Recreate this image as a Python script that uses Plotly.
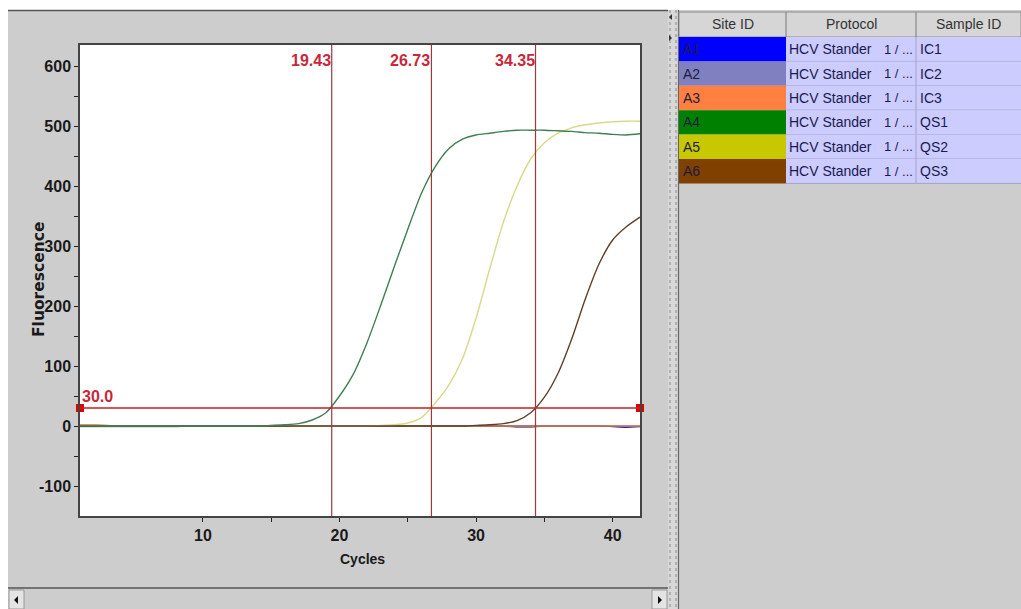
import plotly.graph_objects as go

# ---------------- data ----------------
cycles = [1, 2, 3, 4, 5, 6, 7, 8, 9, 10, 11, 12, 13, 14, 15, 16, 17, 18, 19, 20, 21,
          22, 23, 24, 25, 26, 27, 28, 29, 30, 31, 32, 33, 34, 35, 36, 37, 38, 39, 40, 41, 42]

ic1 = [0, 0, 0, 0, 0, 0, 0, 0, 0, 0, 0, 0, 0, 0, 0, 0, 0, 0, 0, 0, 0,
       0, 0, 0, 0, 0, 0, 0, 0, 0, 0, 0, 0, 0, 0, 0, 0, 0, 0, -1, -2, -1]
ic2 = [-1, -1, -1, -1, -1, -1, -1, -1, 0, 0, 0, 0, 0, 0, 0, 0, 0, 0, 0, 0, 0,
       0, 0, 0, 0, 0, 0, 0, 0, 0, 0, 0, -2, -2, 0, 0, 0, 0, 0, 0, 0, 0]
ic3 = [2, 2, 1, 0, 0, 0, 0, 0, 0, 0, 0, 0, 0, 0, 0, 0, 0, 0, 0, 0, 0,
       0, 0, 0, 0, 0, 0, 0, 0, 0, 0, 0, 0, 0, 0, 0, 0, 0, 0, 0, 0, 0]
qs1 = [0, 0, 0, 0, 0, 0, 0, 0, 0, 0, 0, 0, 0, 0, 1, 2, 4, 10, 22, 50, 86,
       138, 200, 265, 328, 388, 432, 462, 478, 485, 488, 491, 493, 493, 493, 492, 491, 489, 488, 486, 485, 487]
qs2 = [1, 1, 0, 0, 0, 0, 0, 0, 0, 0, 0, 0, 0, 0, 1, 1, 0, 0, 0, 0, 0,
       0, 1, 2, 5, 14, 38, 68, 112, 180, 262, 340, 400, 445, 472, 488, 497, 502, 505, 507, 508, 508]
qs3 = [0, 0, 0, 0, 0, 0, 0, 0, 0, 0, 0, 0, 0, 0, 0, 0, 0, 0, 0, 0, 0,
       0, 0, 0, 0, 0, 0, 0, 0, 1, 2, 4, 9, 22, 48, 88, 145, 212, 270, 310, 332, 348]

series_values = [ic1, ic2, ic3, qs1, qs2, qs3]
sample_ids = ["IC1", "IC2", "IC3", "QS1", "QS2", "QS3"]
site_ids = ["A1", "A2", "A3", "A4", "A5", "A6"]
protocols = ["HCV Stander", "HCV Stander", "HCV Stander", "HCV Stander", "HCV Stander", "HCV Stander"]
protocol_suffix = ["1 / ...", "1 / ...", "1 / ...", "1 / ...", "1 / ...", "1 / ..."]
site_colors = ["#0000ff", "#8080c0", "#ff8040", "#008000", "#c8c800", "#804000"]
line_colors = ["#2020c0", "#7a7ab0", "#e08040", "#3f7f55", "#d9d98a", "#5e4028"]

ct_values = [19.43, 26.73, 34.35]
ct_labels = ["19.43", "26.73", "34.35"]
threshold = 30.0
threshold_label = "30.0"

x_range = [1, 42]
y_range = [-150, 635]
x_tickvals = [10, 20, 30, 40]
x_ticktext = ["10", "20", "30", "40"]
x_minor = [15, 25, 35]
y_tickvals = [-100, 0, 100, 200, 300, 400, 500, 600]
y_ticktext = ["-100", "0", "100", "200", "300", "400", "500", "600"]
y_minor = [-50, 50, 150, 250, 350, 450, 550]

header_labels = ["Site ID", "Protocol", "Sample ID"]

# ---------------- layout helpers (pixel -> paper) ----------------
W, H = 1021, 609
PL, PR, PT, PB = 80, 640, 45, 516


def fx(px):
    return (px - PL) / (PR - PL)


def fy(py):
    return (PB - py) / (PB - PT)


SANS = "Liberation Sans, Arial, sans-serif"
BG = "#cdcdcd"

fig = go.Figure()

order = [1, 0, 2, 4, 5, 3]
for i in order:
    fig.add_trace(go.Scatter(x=cycles, y=series_values[i], mode="lines",
                             line=dict(color=line_colors[i], width=1.4, shape="spline", smoothing=0.7),
                             name=sample_ids[i], showlegend=False, hoverinfo="skip"))

# threshold line markers
fig.add_trace(go.Scatter(x=[x_range[0], x_range[1]], y=[threshold, threshold], mode="markers",
                         marker=dict(symbol="square", size=8, color="#e00000"),
                         cliponaxis=False, showlegend=False, hoverinfo="skip"))

shapes = []
annotations = []

# white outer strips
shapes.append(dict(type="rect", xref="paper", yref="paper", x0=fx(0), x1=fx(W), y0=fy(0), y1=fy(10),
                   fillcolor="white", line=dict(width=0), layer="above"))
shapes.append(dict(type="rect", xref="paper", yref="paper", x0=fx(0), x1=fx(8), y0=fy(10), y1=fy(H),
                   fillcolor="white", line=dict(width=0), layer="above"))
# top border of left panel
shapes.append(dict(type="line", xref="paper", yref="paper", x0=fx(8), x1=fx(668), y0=fy(10.5), y1=fy(10.5),
                   line=dict(color="#555555", width=1.5), layer="above"))

# threshold line
shapes.append(dict(type="line", xref="paper", yref="y", x0=0, x1=1, y0=threshold, y1=threshold,
                   line=dict(color="#c02020", width=1.3), layer="above"))
annotations.append(dict(xref="paper", yref="y", x=fx(80), y=threshold, text=threshold_label,
                        showarrow=False, xanchor="left", yanchor="bottom", yshift=1,
                        font=dict(family=SANS, size=16, color="#c8283c", weight="bold")))

# Ct lines
for ct, lab in zip(ct_values, ct_labels):
    shapes.append(dict(type="line", xref="x", yref="paper", x0=ct, x1=ct, y0=0, y1=1,
                       line=dict(color="#9a3a3a", width=1.2), layer="above"))
    annotations.append(dict(xref="x", yref="paper", x=ct, y=fy(50), text=lab, showarrow=False,
                            xanchor="right", yanchor="top", xshift=1,
                            font=dict(family=SANS, size=16, color="#c8283c", weight="bold")))

# axis titles
annotations.append(dict(xref="paper", yref="paper", x=fx(362), y=fy(559), text="Cycles", showarrow=False,
                        xanchor="center", yanchor="middle",
                        font=dict(family=SANS, size=14, color="#1a1a1a", weight="bold")))
annotations.append(dict(xref="paper", yref="paper", x=fx(39), y=fy(280), text="Fluorescence", showarrow=False,
                        textangle=-90, xanchor="center", yanchor="middle",
                        font=dict(family="DejaVu Sans", size=15.5, color="#1a1a1a", weight="bold")))

# bottom scrollbar
shapes.append(dict(type="line", xref="paper", yref="paper", x0=fx(8), x1=fx(668), y0=fy(588), y1=fy(588),
                   line=dict(color="#555555", width=1.5), layer="above"))
shapes.append(dict(type="rect", xref="paper", yref="paper", x0=fx(9), x1=fx(24), y0=fy(590), y1=fy(609),
                   fillcolor="#e4e4e4", line=dict(color="#9a9a9a", width=1), layer="above"))
shapes.append(dict(type="path", xref="paper", yref="paper",
                   path=f"M {fx(14)},{fy(600)} L {fx(18)},{fy(596)} L {fx(18)},{fy(604)} Z",
                   fillcolor="#111111", line=dict(width=0), layer="above"))
shapes.append(dict(type="rect", xref="paper", yref="paper", x0=fx(652), x1=fx(667), y0=fy(590), y1=fy(609),
                   fillcolor="#e4e4e4", line=dict(color="#9a9a9a", width=1), layer="above"))
shapes.append(dict(type="path", xref="paper", yref="paper",
                   path=f"M {fx(662)},{fy(600)} L {fx(658)},{fy(596)} L {fx(658)},{fy(604)} Z",
                   fillcolor="#111111", line=dict(width=0), layer="above"))

# vertical splitter
shapes.append(dict(type="rect", xref="paper", yref="paper", x0=fx(668), x1=fx(678), y0=fy(10), y1=fy(H),
                   fillcolor="#d8d8d8", line=dict(width=0), layer="above"))
for sx in [670, 676]:
    shapes.append(dict(type="line", xref="paper", yref="paper", x0=fx(sx), x1=fx(sx), y0=fy(10), y1=fy(H),
                       line=dict(color="#8a8a8a", width=1, dash="dot"), layer="above"))
shapes.append(dict(type="line", xref="paper", yref="paper", x0=fx(678.5), x1=fx(678.5), y0=fy(10), y1=fy(H),
                   line=dict(color="#666666", width=1.2), layer="above"))
shapes.append(dict(type="path", xref="paper", yref="paper",
                   path=f"M {fx(669)},{fy(17)} L {fx(672)},{fy(14)} L {fx(672)},{fy(20)} Z",
                   fillcolor="#333333", line=dict(width=0), layer="above"))
shapes.append(dict(type="path", xref="paper", yref="paper",
                   path=f"M {fx(672)},{fy(38)} L {fx(669)},{fy(35)} L {fx(669)},{fy(41)} Z",
                   fillcolor="#333333", line=dict(width=0), layer="above"))

# table
col_edges = [679, 786, 916, 1021]
head_top, head_bot = 12, 37
row_h = 24.4
shapes.append(dict(type="rect", xref="paper", yref="paper", x0=fx(679), x1=fx(1021), y0=fy(head_top), y1=fy(head_bot),
                   fillcolor="#d6d6d6", line=dict(color="#8c8c8c", width=1), layer="above"))
for cx in col_edges[1:3]:
    shapes.append(dict(type="line", xref="paper", yref="paper", x0=fx(cx), x1=fx(cx), y0=fy(head_top), y1=fy(head_bot),
                       line=dict(color="#7a7a7a", width=1), layer="above"))
for j, lab in enumerate(header_labels):
    cxm = (col_edges[j] + col_edges[j + 1]) / 2
    annotations.append(dict(xref="paper", yref="paper", x=fx(cxm), y=fy((head_top + head_bot) / 2), text=lab,
                            showarrow=False, xanchor="center", yanchor="middle",
                            font=dict(family=SANS, size=14, color="#333333")))

for i in range(len(site_ids)):
    top = head_bot + i * row_h
    bot = top + row_h
    shapes.append(dict(type="rect", xref="paper", yref="paper", x0=fx(679), x1=fx(786), y0=fy(top), y1=fy(bot),
                       fillcolor=site_colors[i], line=dict(width=0), layer="above"))
    shapes.append(dict(type="rect", xref="paper", yref="paper", x0=fx(786), x1=fx(1021), y0=fy(top), y1=fy(bot),
                       fillcolor="#ccccff", line=dict(width=0), layer="above"))
    shapes.append(dict(type="line", xref="paper", yref="paper", x0=fx(786), x1=fx(1021), y0=fy(bot), y1=fy(bot),
                       line=dict(color="#a4a4c4", width=1), layer="above"))
    shapes.append(dict(type="line", xref="paper", yref="paper", x0=fx(916), x1=fx(916), y0=fy(top), y1=fy(bot),
                       line=dict(color="#a4a4c4", width=1), layer="above"))
    ymid = fy((top + bot) / 2)
    annotations.append(dict(xref="paper", yref="paper", x=fx(681), y=ymid, text=site_ids[i], showarrow=False,
                            xanchor="left", yanchor="middle",
                            font=dict(family=SANS, size=14, color="#1c1c3c")))
    annotations.append(dict(xref="paper", yref="paper", x=fx(787), y=ymid, text=protocols[i], showarrow=False,
                            xanchor="left", yanchor="middle",
                            font=dict(family=SANS, size=14, color="#1a1a50")))
    annotations.append(dict(xref="paper", yref="paper", x=fx(915), y=ymid, text=protocol_suffix[i], showarrow=False,
                            xanchor="right", yanchor="middle",
                            font=dict(family=SANS, size=13, color="#1a1a50")))
    annotations.append(dict(xref="paper", yref="paper", x=fx(918), y=ymid, text=sample_ids[i], showarrow=False,
                            xanchor="left", yanchor="middle",
                            font=dict(family=SANS, size=14, color="#1a1a50")))

tickfont = dict(family=SANS, size=16, color="#1a1a1a", weight="bold")

fig.update_layout(
    width=W, height=H,
    margin=dict(l=PL, r=W - PR, t=PT, b=H - PB, pad=0),
    paper_bgcolor=BG, plot_bgcolor="white",
    showlegend=False,
    shapes=shapes, annotations=annotations,
    xaxis=dict(range=x_range, tickvals=x_tickvals, ticktext=x_ticktext, ticks="outside", ticklen=4,
               tickwidth=1.2, tickcolor="#222",
               minor=dict(tickvals=x_minor, ticks="outside", ticklen=4, tickwidth=1.2, tickcolor="#222"),
               showgrid=False, zeroline=False, showline=True, linecolor="#444", linewidth=1.5, mirror=True,
               tickfont=tickfont, fixedrange=True),
    yaxis=dict(range=y_range, tickvals=y_tickvals, ticktext=y_ticktext, ticks="outside", ticklen=4,
               tickwidth=1.2, tickcolor="#222",
               minor=dict(tickvals=y_minor, ticks="outside", ticklen=4, tickwidth=1.2, tickcolor="#222"),
               showgrid=False, zeroline=False, showline=True, linecolor="#444", linewidth=1.5, mirror=True,
               tickfont=tickfont, fixedrange=True),
)

fig.write_html("out.html")
